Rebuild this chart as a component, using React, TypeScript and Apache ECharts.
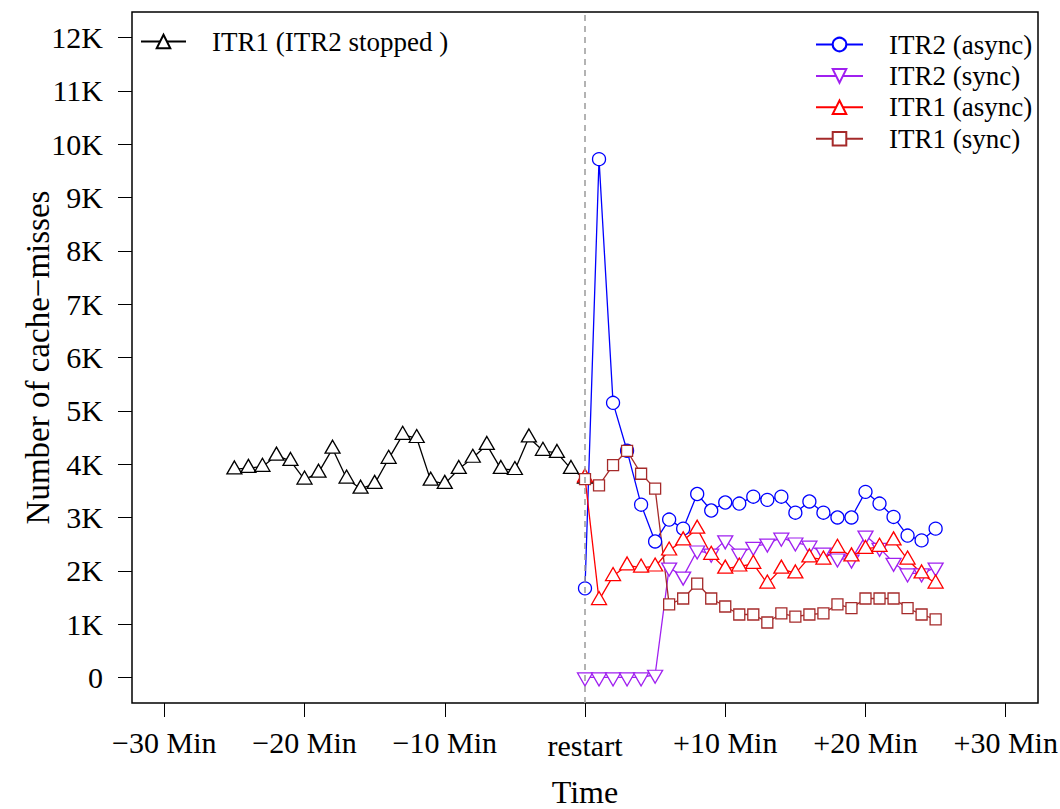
import React, { useEffect, useRef } from "react";
import * as echarts from "echarts";

const timeBefore = [-25, -24, -23, -22, -21, -20, -19, -18, -17, -16, -15, -14, -13, -12, -11, -10, -9, -8, -7, -6, -5, -4, -3, -2, -1, 0];
const timeAfter = [0, 1, 2, 3, 4, 5, 6, 7, 8, 9, 10, 11, 12, 13, 14, 15, 16, 17, 18, 19, 20, 21, 22, 23, 24, 25];

const itr1StoppedValues = [3900, 3930, 3950, 4160, 4060, 3710, 3840, 4290, 3730, 3540, 3630, 4100, 4550, 4490, 3690, 3630, 3910, 4120, 4360, 3910, 3890, 4500, 4250, 4210, 3910, 3730];
const itr2AsyncValues = [1670, 9720, 5150, 4250, 3240, 2550, 2960, 2790, 3440, 3130, 3280, 3260, 3390, 3330, 3390, 3090, 3300, 3090, 3000, 3000, 3480, 3260, 3010, 2660, 2570, 2790];
const itr2SyncValues = [0, 0, 0, 0, 0, 50, 2060, 1890, 2380, 2320, 2570, 2320, 2450, 2510, 2620, 2530, 2470, 2340, 2230, 2210, 2660, 2430, 2150, 1950, 1950, 2060];
const itr1AsyncValues = [3750, 1450, 1900, 2100, 2060, 2080, 2380, 2570, 2790, 2300, 2040, 2080, 2130, 1760, 2040, 1950, 2250, 2210, 2430, 2270, 2410, 2450, 2570, 2210, 1950, 1760];
const itr1SyncValues = [3720, 3600, 3980, 4250, 3820, 3540, 1370, 1480, 1760, 1480, 1330, 1180, 1180, 1030, 1200, 1140, 1180, 1200, 1370, 1300, 1480, 1480, 1480, 1300, 1180, 1090];

const xTickValues = [-30, -20, -10, 0, 10, 20, 30];
const yTickValues = [0, 1000, 2000, 3000, 4000, 5000, 6000, 7000, 8000, 9000, 10000, 11000, 12000];

const seriesNames = {
  stopped: "ITR1 (ITR2 stopped )",
  itr2Async: "ITR2 (async)",
  itr2Sync: "ITR2 (sync)",
  itr1Async: "ITR1 (async)",
  itr1Sync: "ITR1 (sync)",
};

const FONT = "'Liberation Serif', 'Times New Roman', serif";

function pairs(xs: number[], ys: number[]) {
  return xs.map((x, i) => [x, ys[i]]);
}

function makeSeries(
  name: string,
  xs: number[],
  ys: number[],
  color: string,
  symbol: string,
  size: number | number[],
  extra: any = {}
) {
  return {
    type: "line",
    name,
    data: pairs(xs, ys),
    symbol,
    symbolSize: size,
    showAllSymbol: true,
    lineStyle: { color, width: 1.3 },
    itemStyle: { color: "#ffffff", borderColor: color, borderWidth: 1.3 },
    emphasis: { disabled: true },
    ...extra,
  };
}

export default function App() {
  const ref = useRef<HTMLDivElement>(null);

  useEffect(() => {
    if (!ref.current) return;
    const chart = echarts.init(ref.current, null, { renderer: "svg" });

    const xLabel = (v: number) => {
      if (v === 0) return "{r|restart}";
      if (v < 0) return "\u2212" + Math.abs(v) + " Min";
      return "+" + v + " Min";
    };

    const legendText = { fontFamily: FONT, fontSize: 27, color: "#000", lineHeight: 26, padding: [0, 0, 0, 21] };

    const option: any = {
      animation: false,
      backgroundColor: "#ffffff",
      textStyle: { fontFamily: FONT },
      grid: {
        left: 132,
        right: 22,
        top: 12,
        bottom: 106,
        show: true,
        borderColor: "#000000",
        borderWidth: 1.5,
        backgroundColor: "transparent",
        containLabel: false,
        outerBoundsMode: "none",
      },
      xAxis: {
        type: "value",
        min: -32.3,
        max: 32.3,
        name: "Time",
        nameLocation: "middle",
        nameGap: 73,
        nameMoveOverlap: false,
        nameTextStyle: { fontFamily: FONT, fontSize: 32, lineHeight: 32, color: "#000" },
        axisLine: { show: false, onZero: false },
        splitLine: { show: false },
        axisTick: {
          show: true,
          length: 14,
          inside: false,
          customValues: xTickValues,
          lineStyle: { color: "#000", width: 1 },
        },
        axisLabel: {
          customValues: xTickValues,
          formatter: xLabel,
          margin: 24,
          fontFamily: FONT,
          fontSize: 30,
          color: "#000",
          rich: {
            r: { fontFamily: FONT, fontSize: 30, color: "#000", padding: [3, 0, 0, 0] },
          },
        },
      },
      yAxis: {
        type: "value",
        min: -480,
        max: 12480,
        name: "Number of cache\u2212misses",
        nameLocation: "middle",
        nameGap: 78,
        nameMoveOverlap: false,
        nameRotate: 90,
        nameTextStyle: { fontFamily: FONT, fontSize: 33, color: "#000" },
        axisLine: { show: false, onZero: false },
        splitLine: { show: false },
        axisTick: {
          show: true,
          length: 14,
          inside: false,
          customValues: yTickValues,
          lineStyle: { color: "#000", width: 1 },
        },
        axisLabel: {
          customValues: yTickValues,
          formatter: (v: number) => (v === 0 ? "0" : v / 1000 + "K"),
          margin: 29,
          fontFamily: FONT,
          fontSize: 30,
          color: "#000",
        },
      },
      legend: [
        {
          data: [seriesNames.stopped],
          orient: "horizontal",
          left: 140,
          top: 28,
          padding: 0,
          itemWidth: 45,
          itemHeight: 17,
          selectedMode: false,
          textStyle: legendText,
        },
        {
          data: [seriesNames.itr2Async, seriesNames.itr2Sync, seriesNames.itr1Async, seriesNames.itr1Sync],
          orient: "vertical",
          left: 815,
          top: 31,
          padding: 0,
          itemWidth: 47,
          itemHeight: 17,
          itemGap: 4.4,
          selectedMode: false,
          textStyle: legendText,
        },
      ],
      series: [
        makeSeries(seriesNames.stopped, timeBefore, itr1StoppedValues, "#000000", "triangle", [15, 13], {
          symbolOffset: [0, -2],
          markLine: {
            silent: true,
            symbol: ["none", "none"],
            label: { show: false },
            lineStyle: { color: "#9a9a9a", type: [6, 5], width: 1.5 },
            data: [{ xAxis: 0 }],
          },
        }),
        makeSeries(seriesNames.itr2Async, timeAfter, itr2AsyncValues, "#0000ff", "circle", 13),
        makeSeries(seriesNames.itr2Sync, timeAfter, itr2SyncValues, "#a020f0", "triangle", [15, 13], {
          symbolRotate: 180,
          symbolOffset: [0, 2],
        }),
        makeSeries(seriesNames.itr1Async, timeAfter, itr1AsyncValues, "#ff0000", "triangle", [15, 13], {
          symbolOffset: [0, -2],
        }),
        makeSeries(seriesNames.itr1Sync, timeAfter, itr1SyncValues, "#a52a2a", "rect", 11),
      ],
    };

    chart.setOption(option);
    return () => {
      chart.dispose();
    };
  }, []);

  return (
    <div
      ref={ref}
      style={{ position: "fixed", left: 0, top: 0, width: "1060px", height: "809px", background: "#fff" }}
    />
  );
}
